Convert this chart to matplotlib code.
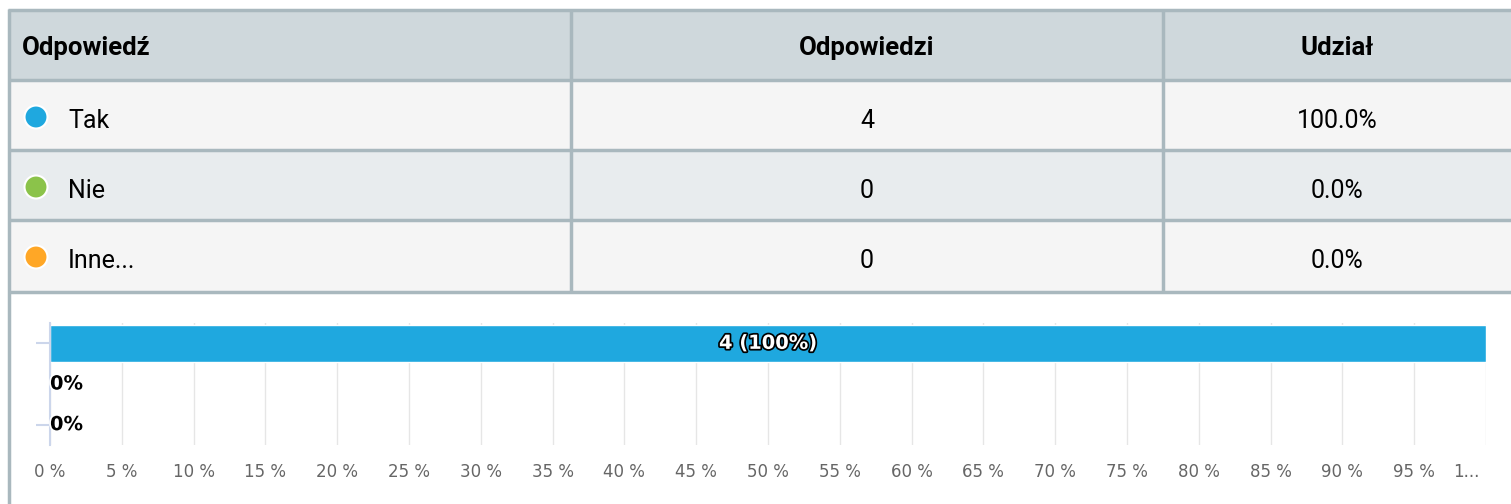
import matplotlib
matplotlib.use("Agg")
import matplotlib.pyplot as plt
import matplotlib.patheffects as pe
from matplotlib.patches import Rectangle, Circle
from matplotlib.transforms import ScaledTranslation

# === Data ===
answers = ["Tak", "Nie", "Inne..."]
counts = [4, 0, 0]
shares = [100.0, 0.0, 0.0]
colors = ["#1fa8df", "#8bc34a", "#ffa726"]
headers = ["Odpowiedź", "Odpowiedzi", "Udział"]
x_ticks = list(range(0, 101, 5))
x_labels = [f"{t} %" for t in x_ticks[:-1]] + ["1..."]

# === Figure ===
W, H = 1511, 504
fig = plt.figure(figsize=(W / 100, H / 100), dpi=100)
bg = fig.add_axes([0, 0, 1, 1])
bg.set_xlim(0, W)
bg.set_ylim(H, 0)
bg.axis("off")

tfont = ["Roboto", "DejaVu Sans"]
border = "#a9b8be"

# === Table ===
row_top = [10, 80, 150, 220]
col_x = [8, 571, 1163, W]
fills = ["#cfd8dc", "#f5f5f5", "#e8ecee", "#f5f5f5"]
for i, top in enumerate(row_top):
    h = 72 if i == 3 else 70
    bg.add_patch(Rectangle((col_x[0], top), W - col_x[0], h, facecolor=fills[i], edgecolor="none"))
for y in [10, 80, 150, 220, 292]:
    bg.plot([col_x[0], W], [y, y], color=border, lw=2.5, solid_capstyle="butt")
for x in col_x[1:3]:
    bg.plot([x, x], [10, 292], color=border, lw=2.5, solid_capstyle="butt")
bg.plot([9, 9], [9, H], color=border, lw=2.5, solid_capstyle="butt")

# header row
mid2 = (col_x[1] + col_x[2]) / 2
mid3 = (col_x[2] + col_x[3]) / 2
bg.text(22, 55, headers[0], ha="left", va="baseline", fontsize=18.5, fontweight="bold", family=tfont)
bg.text(mid2, 55, headers[1], ha="center", va="baseline", fontsize=18.5, fontweight="bold", family=tfont)
bg.text(mid3, 55, headers[2], ha="center", va="baseline", fontsize=18.5, fontweight="bold", family=tfont)

for i, (name, n, s, c) in enumerate(zip(answers, counts, shares, colors)):
    base = row_top[i + 1] + 47.5
    bg.add_patch(Circle((36, base - 10.5), 11.5, facecolor=c, edgecolor="white", lw=1.5))
    bg.text(68, base, name, ha="left", va="baseline", fontsize=18, family=tfont)
    bg.text(mid2, base, str(n), ha="center", va="baseline", fontsize=18, family=tfont)
    bg.text(mid3, base, f"{s:.1f}%", ha="center", va="baseline", fontsize=18, family=tfont)

# === Bar chart ===
ax = fig.add_axes([50 / W, (H - 445) / H, 1436 / W, 122 / H])
ypos = list(range(len(answers)))
ax.barh(ypos, shares, height=0.92, color=colors, edgecolor="white", linewidth=1, zorder=3)
ax.set_xlim(0, 100)
ax.set_ylim(len(answers) - 0.5, -0.5)
ax.set_xticks(x_ticks)
ax.set_xticklabels(x_labels, color="#666666", fontsize=12)
ax.tick_params(axis="x", length=0, pad=13)
# last label is clipped and pulled inside, as in the original
last = ax.get_xticklabels()[-1]
last.set_transform(last.get_transform() + ScaledTranslation(-0.2, 0, fig.dpi_scale_trans))
ax.set_yticks([0, 2])
ax.set_yticklabels([])
ax.tick_params(axis="y", length=10, color="#ccd6eb", width=1.5)
ax.grid(axis="x", color="#e6e6e6", lw=1, zorder=0)
for side in ["top", "right", "bottom"]:
    ax.spines[side].set_visible(False)
ax.spines["left"].set_color("#ccd6eb")
ax.spines["left"].set_linewidth(1.5)
ax.spines["left"].set_zorder(4)

for y, n, s in zip(ypos, counts, shares):
    if s > 0:
        ax.text(s / 2, y, f"{n} ({s:.0f}%)", ha="center", va="center", fontsize=14,
                fontweight="bold", color="white", zorder=5,
                path_effects=[pe.withStroke(linewidth=2.5, foreground="black")])
    else:
        ax.text(0, y, f"{s:.0f}%", ha="left", va="center", fontsize=14,
                fontweight="bold", color="black", zorder=5,
                path_effects=[pe.withStroke(linewidth=2.5, foreground="white")])

fig.savefig("out.png", dpi=100)
plt.close(fig)
